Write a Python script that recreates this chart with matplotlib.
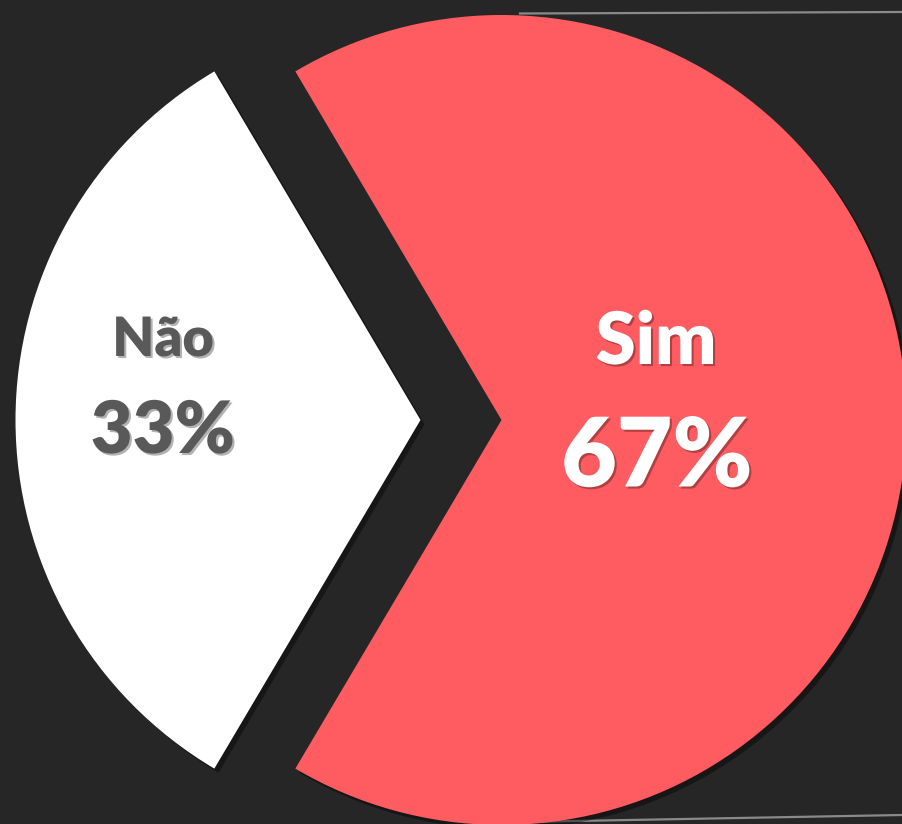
import matplotlib
matplotlib.use("Agg")
import matplotlib.pyplot as plt
import matplotlib.patheffects as pe
from matplotlib.lines import Line2D

# Data
categories = ["Sim", "Não"]
values = [67, 33]
colors = ["#FE5C61", "#FFFFFF"]
label_colors = ["#FFFFFF", "#595959"]

BG = "#262626"
W, H = 902, 824
fig = plt.figure(figsize=(W / 100, H / 100), dpi=100, facecolor=BG)
ax = fig.add_axes([0, 0, 1, 1])
ax.set_facecolor(BG)

# chart-area border lines (partially hidden behind the pie)
fig.add_artist(Line2D([520 / W, 1.0], [1 - 13.5 / H, 1 - 12 / H], color="#8a8a8a", lw=1.6, zorder=0))
fig.add_artist(Line2D([520 / W, 1.0], [1 - 822 / H, 1 - 815 / H], color="#8a8a8a", lw=1.6, zorder=0))

total = sum(values)
start = -values[0] / total * 180.0
wedges, _ = ax.pie(values, colors=colors, startangle=start, counterclock=True,
                   explode=[0.1, 0.1], radius=1.0, center=(0, 0),
                   wedgeprops=dict(linewidth=0))
for w in wedges:
    w.set_path_effects([pe.SimplePatchShadow(offset=(3, -3), shadow_rgbFace="black", alpha=0.4), pe.Normal()])

scale = 405.0
cx, cy = 461.0, 420.0
ax.set_xlim(-cx / scale, (W - cx) / scale)
ax.set_ylim(-(H - cy) / scale, cy / scale)
ax.set_aspect("auto")
ax.axis("off")

shadow = [pe.withSimplePatchShadow(offset=(1.5, -1.5), shadow_rgbFace="black", alpha=0.3)]
family = ["Lato", "DejaVu Sans"]

# label positions (pixel coords of text centres)
name_pos = [(656, 343), (163, 340)]
pct_pos = [(657, 458), (163, 432)]
name_sizes = [52, 39]
pct_sizes = [69, 52]

for i, cat in enumerate(categories):
    pct = f"{round(values[i] / total * 100)}%"
    nx, ny = name_pos[i]
    px, py = pct_pos[i]
    ax.text((nx - cx) / scale, (cy - ny) / scale, cat, color=label_colors[i], fontsize=name_sizes[i],
            fontweight="heavy", family=family, ha="center", va="center", path_effects=shadow)
    ax.text((px - cx) / scale, (cy - py) / scale, pct, color=label_colors[i], fontsize=pct_sizes[i],
            fontweight="heavy", family=family, ha="center", va="center", path_effects=shadow)

fig.savefig("out.png", dpi=100, facecolor=BG)
